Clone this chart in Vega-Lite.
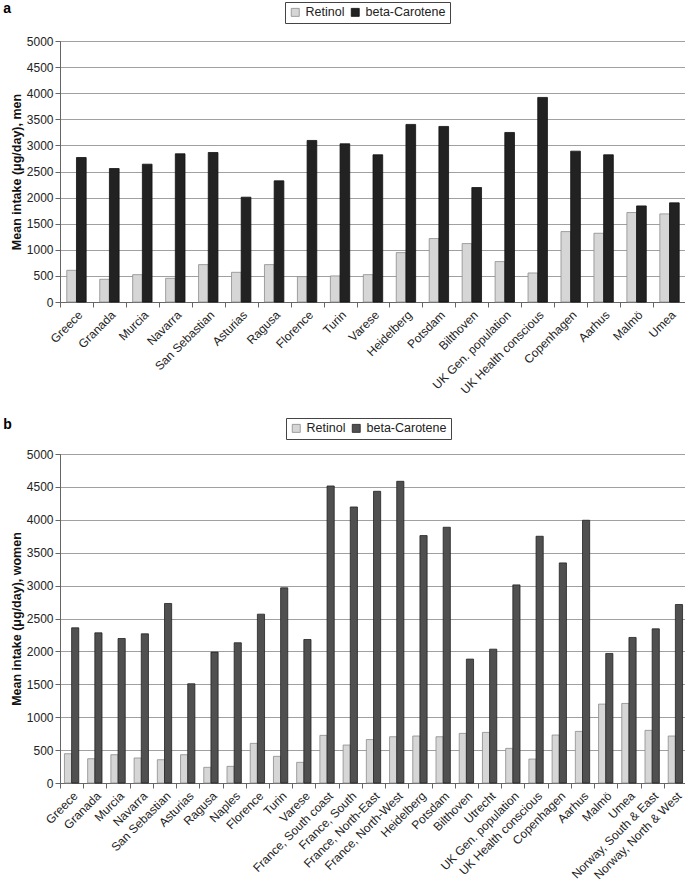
{
  "$schema": "https://vega.github.io/schema/vega-lite/v6.json",
  "padding": {"left": 2, "top": 1, "right": 1, "bottom": 0},
  "background": "white",
  "config": {
    "font": "Liberation Sans",
    "view": {"stroke": "#777777", "strokeWidth": 1},
    "axis": {
      "labelFontSize": 12, "labelColor": "#222222", "labelFont": "Liberation Sans",
      "titleFontSize": 12.5, "titleFontWeight": "bold", "titleColor": "#111111",
      "domainColor": "#666666", "tickColor": "#666666", "tickSize": 5,
      "gridColor": "#a0a0a0", "gridWidth": 1.2
    },
    "legend": {"labelFontSize": 12.5, "labelColor": "#222222"}
  },
  "datasets": {
    "men": [
      {"region": "Greece", "nutrient": "Retinol", "value": 607}, {"region": "Greece", "nutrient": "beta-Carotene", "value": 2768},
      {"region": "Granada", "nutrient": "Retinol", "value": 435}, {"region": "Granada", "nutrient": "beta-Carotene", "value": 2557},
      {"region": "Murcia", "nutrient": "Retinol", "value": 524}, {"region": "Murcia", "nutrient": "beta-Carotene", "value": 2640},
      {"region": "Navarra", "nutrient": "Retinol", "value": 454}, {"region": "Navarra", "nutrient": "beta-Carotene", "value": 2839},
      {"region": "San Sebastian", "nutrient": "Retinol", "value": 716}, {"region": "San Sebastian", "nutrient": "beta-Carotene", "value": 2864},
      {"region": "Asturias", "nutrient": "Retinol", "value": 569}, {"region": "Asturias", "nutrient": "beta-Carotene", "value": 2008},
      {"region": "Ragusa", "nutrient": "Retinol", "value": 716}, {"region": "Ragusa", "nutrient": "beta-Carotene", "value": 2321},
      {"region": "Florence", "nutrient": "Retinol", "value": 486}, {"region": "Florence", "nutrient": "beta-Carotene", "value": 3095},
      {"region": "Turin", "nutrient": "Retinol", "value": 499}, {"region": "Turin", "nutrient": "beta-Carotene", "value": 3031},
      {"region": "Varese", "nutrient": "Retinol", "value": 524}, {"region": "Varese", "nutrient": "beta-Carotene", "value": 2820},
      {"region": "Heidelberg", "nutrient": "Retinol", "value": 946}, {"region": "Heidelberg", "nutrient": "beta-Carotene", "value": 3402},
      {"region": "Potsdam", "nutrient": "Retinol", "value": 1215}, {"region": "Potsdam", "nutrient": "beta-Carotene", "value": 3363},
      {"region": "Bilthoven", "nutrient": "Retinol", "value": 1119}, {"region": "Bilthoven", "nutrient": "beta-Carotene", "value": 2193},
      {"region": "UK Gen. population", "nutrient": "Retinol", "value": 774}, {"region": "UK Gen. population", "nutrient": "beta-Carotene", "value": 3248},
      {"region": "UK Health conscious", "nutrient": "Retinol", "value": 556}, {"region": "UK Health conscious", "nutrient": "beta-Carotene", "value": 3919},
      {"region": "Copenhagen", "nutrient": "Retinol", "value": 1349}, {"region": "Copenhagen", "nutrient": "beta-Carotene", "value": 2890},
      {"region": "Aarhus", "nutrient": "Retinol", "value": 1317}, {"region": "Aarhus", "nutrient": "beta-Carotene", "value": 2820},
      {"region": "Malmö", "nutrient": "Retinol", "value": 1714}, {"region": "Malmö", "nutrient": "beta-Carotene", "value": 1841},
      {"region": "Umea", "nutrient": "Retinol", "value": 1688}, {"region": "Umea", "nutrient": "beta-Carotene", "value": 1899}
    ],
    "women": [
      {"region": "Greece", "nutrient": "Retinol", "value": 445}, {"region": "Greece", "nutrient": "beta-Carotene", "value": 2358},
      {"region": "Granada", "nutrient": "Retinol", "value": 369}, {"region": "Granada", "nutrient": "beta-Carotene", "value": 2282},
      {"region": "Murcia", "nutrient": "Retinol", "value": 430}, {"region": "Murcia", "nutrient": "beta-Carotene", "value": 2196},
      {"region": "Navarra", "nutrient": "Retinol", "value": 380}, {"region": "Navarra", "nutrient": "beta-Carotene", "value": 2267},
      {"region": "San Sebastian", "nutrient": "Retinol", "value": 354}, {"region": "San Sebastian", "nutrient": "beta-Carotene", "value": 2728},
      {"region": "Asturias", "nutrient": "Retinol", "value": 430}, {"region": "Asturias", "nutrient": "beta-Carotene", "value": 1508},
      {"region": "Ragusa", "nutrient": "Retinol", "value": 238}, {"region": "Ragusa", "nutrient": "beta-Carotene", "value": 1989},
      {"region": "Naples", "nutrient": "Retinol", "value": 253}, {"region": "Naples", "nutrient": "beta-Carotene", "value": 2131},
      {"region": "Florence", "nutrient": "Retinol", "value": 602}, {"region": "Florence", "nutrient": "beta-Carotene", "value": 2566},
      {"region": "Turin", "nutrient": "Retinol", "value": 405}, {"region": "Turin", "nutrient": "beta-Carotene", "value": 2966},
      {"region": "Varese", "nutrient": "Retinol", "value": 314}, {"region": "Varese", "nutrient": "beta-Carotene", "value": 2181},
      {"region": "France, South coast", "nutrient": "Retinol", "value": 724}, {"region": "France, South coast", "nutrient": "beta-Carotene", "value": 4514},
      {"region": "France, South", "nutrient": "Retinol", "value": 577}, {"region": "France, South", "nutrient": "beta-Carotene", "value": 4195},
      {"region": "France, North-East", "nutrient": "Retinol", "value": 660}, {"region": "France, North-East", "nutrient": "beta-Carotene", "value": 4433},
      {"region": "France, North-West", "nutrient": "Retinol", "value": 703}, {"region": "France, North-West", "nutrient": "beta-Carotene", "value": 4585},
      {"region": "Heidelberg", "nutrient": "Retinol", "value": 714}, {"region": "Heidelberg", "nutrient": "beta-Carotene", "value": 3760},
      {"region": "Potsdam", "nutrient": "Retinol", "value": 703}, {"region": "Potsdam", "nutrient": "beta-Carotene", "value": 3887},
      {"region": "Bilthoven", "nutrient": "Retinol", "value": 754}, {"region": "Bilthoven", "nutrient": "beta-Carotene", "value": 1883},
      {"region": "Utrecht", "nutrient": "Retinol", "value": 769}, {"region": "Utrecht", "nutrient": "beta-Carotene", "value": 2034},
      {"region": "UK Gen. population", "nutrient": "Retinol", "value": 526}, {"region": "UK Gen. population", "nutrient": "beta-Carotene", "value": 3011},
      {"region": "UK Health conscious", "nutrient": "Retinol", "value": 364}, {"region": "UK Health conscious", "nutrient": "beta-Carotene", "value": 3750},
      {"region": "Copenhagen", "nutrient": "Retinol", "value": 729}, {"region": "Copenhagen", "nutrient": "beta-Carotene", "value": 3345},
      {"region": "Aarhus", "nutrient": "Retinol", "value": 784}, {"region": "Aarhus", "nutrient": "beta-Carotene", "value": 3993},
      {"region": "Malmö", "nutrient": "Retinol", "value": 1199}, {"region": "Malmö", "nutrient": "beta-Carotene", "value": 1969},
      {"region": "Umea", "nutrient": "Retinol", "value": 1209}, {"region": "Umea", "nutrient": "beta-Carotene", "value": 2212},
      {"region": "Norway, South & East", "nutrient": "Retinol", "value": 800}, {"region": "Norway, South & East", "nutrient": "beta-Carotene", "value": 2343},
      {"region": "Norway, North & West", "nutrient": "Retinol", "value": 714}, {"region": "Norway, North & West", "nutrient": "beta-Carotene", "value": 2713}
    ]
  },
  "spacing": 20,
  "resolve": {"scale": {"color": "independent", "stroke": "independent", "x": "independent", "xOffset": "independent"}, "legend": {"color": "independent"}},
  "vconcat": [
    {
      "title": {"text": "a", "anchor": "start", "fontSize": 14, "fontWeight": "bold", "frame": "bounds", "dx": -7, "dy": 18},
      "width": 626,
      "height": 261,
      "data": {"name": "men"},
      "mark": {"type": "bar", "strokeWidth": 0.8},
      "encoding": {
        "x": {"field": "region", "type": "nominal", "sort": null, "scale": {"paddingInner": 0, "paddingOuter": 0},
              "axis": {"title": null, "labelAngle": -45, "tickBand": "extent", "labelPadding": 2}},
        "xOffset": {"field": "nutrient", "type": "nominal", "sort": ["Retinol", "beta-Carotene"], "scale": {"paddingOuter": 0.7, "paddingInner": 0}},
        "y": {"field": "value", "type": "quantitative", "scale": {"domain": [0, 5000]},
              "axis": {"title": "Mean intake (μg/day), men", "format": "d", "values": [0, 500, 1000, 1500, 2000, 2500, 3000, 3500, 4000, 4500, 5000], "titlePadding": 3}},
        "color": {"field": "nutrient", "type": "nominal", "scale": {"domain": ["Retinol", "beta-Carotene"], "range": ["#d6d6d6", "#222222"]},
                  "legend": {"title": null, "orient": "none", "legendX": 225, "legendY": -39, "direction": "horizontal",
                             "strokeColor": "#444444", "padding": 4, "symbolType": "square", "symbolSize": 64,
                             "symbolStrokeColor": "#777777", "symbolStrokeWidth": 0.8, "columnPadding": 4, "labelOffset": 4}},
        "stroke": {"field": "nutrient", "type": "nominal", "scale": {"domain": ["Retinol", "beta-Carotene"], "range": ["#8c8c8c", "#111111"]}, "legend": null}
      }
    },
    {
      "title": {"text": "b", "anchor": "start", "fontSize": 14, "fontWeight": "bold", "frame": "bounds", "dx": -7, "dy": 18},
      "width": 627,
      "height": 329,
      "data": {"name": "women"},
      "mark": {"type": "bar", "strokeWidth": 0.8},
      "encoding": {
        "x": {"field": "region", "type": "nominal", "sort": null, "scale": {"paddingInner": 0, "paddingOuter": 0},
              "axis": {"title": null, "labelAngle": -45, "tickBand": "extent", "labelPadding": 2}},
        "xOffset": {"field": "nutrient", "type": "nominal", "sort": ["Retinol", "beta-Carotene"], "scale": {"paddingOuter": 0.62, "paddingInner": 0}},
        "y": {"field": "value", "type": "quantitative", "scale": {"domain": [0, 5000]},
              "axis": {"title": "Mean intake (μg/day), women", "format": "d", "values": [0, 500, 1000, 1500, 2000, 2500, 3000, 3500, 4000, 4500, 5000], "titlePadding": 3}},
        "color": {"field": "nutrient", "type": "nominal", "scale": {"domain": ["Retinol", "beta-Carotene"], "range": ["#d6d6d6", "#505050"]},
                  "legend": {"title": null, "orient": "none", "legendX": 226, "legendY": -36, "direction": "horizontal",
                             "strokeColor": "#444444", "padding": 4, "symbolType": "square", "symbolSize": 64,
                             "symbolStrokeColor": "#777777", "symbolStrokeWidth": 0.8, "columnPadding": 4, "labelOffset": 4}},
        "stroke": {"field": "nutrient", "type": "nominal", "scale": {"domain": ["Retinol", "beta-Carotene"], "range": ["#8c8c8c", "#222222"]}, "legend": null}
      }
    }
  ]
}
